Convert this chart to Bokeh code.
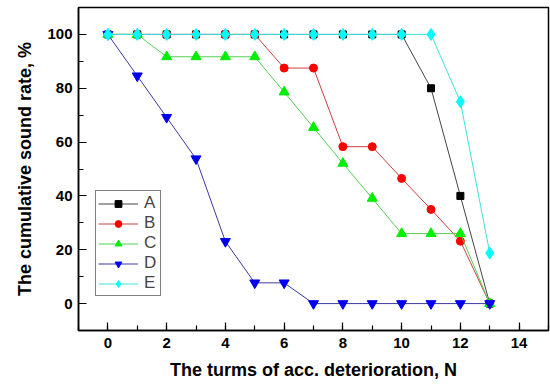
from bokeh.plotting import figure
from bokeh.models import Range1d, SingleIntervalTicker, Legend, LegendItem
from bokeh.embed import file_html
from bokeh.resources import INLINE

turns = [0, 1, 2, 3, 4, 5, 6, 7, 8, 9, 10, 11, 12, 13]
series_a = [100, 100, 100, 100, 100, 100, 100, 100, 100, 100, 100, 80, 40, 0]
series_b = [100, 100, 100, 100, 100, 100, 87.5, 87.5, 58.3, 58.3, 46.5, 35, 23.2, 0]
series_c = [100, 100, 91.7, 91.7, 91.7, 91.7, 78.6, 65.4, 52.1, 39.1, 26, 26, 26, 0]
series_d = [100, 84.6, 69.2, 53.8, 23.1, 7.7, 7.7, 0, 0, 0, 0, 0, 0, 0]
series_e = [100, 100, 100, 100, 100, 100, 100, 100, 100, 100, 100, 100, 75, 18.75]
names = ["A", "B", "C", "D", "E"]

p = figure(width=550, height=384, output_backend="svg", toolbar_location=None,
           x_range=Range1d(-1, 15), y_range=Range1d(-10, 110),
           min_border_left=78, min_border_right=2, min_border_top=7, min_border_bottom=54)
p.background_fill_color = "white"
p.border_fill_color = "white"
p.grid.visible = False
p.outline_line_color = "black"
p.outline_line_width = 1.5

p.xaxis.ticker = SingleIntervalTicker(interval=2, num_minor_ticks=2)
p.yaxis.ticker = SingleIntervalTicker(interval=20, num_minor_ticks=2)
for ax in (p.xaxis[0], p.yaxis[0]):
    ax.major_tick_in = 8
    ax.major_tick_out = 0
    ax.minor_tick_in = 5
    ax.minor_tick_out = 0
    ax.axis_line_color = "black"
    ax.axis_line_width = 1.5
    ax.major_tick_line_width = 1.2
    ax.minor_tick_line_width = 1.2
    ax.major_label_text_font = "Liberation Sans"
    ax.major_label_text_font_style = "bold"
    ax.major_label_text_font_size = "15px"
    ax.major_label_text_color = "black"
    ax.axis_label_text_font = "Liberation Sans"
    ax.axis_label_text_font_style = "bold"
    ax.axis_label_text_font_size = "18px"
    ax.axis_label_text_color = "black"

p.xaxis.axis_label = "The turms of acc. deterioration, N"
p.yaxis.axis_label = "The cumulative sound rate, %"
p.xaxis.major_label_standoff = 7
p.xaxis.axis_label_standoff = 9
p.yaxis.major_label_standoff = 6
p.yaxis.axis_label_standoff = 9

specs = [
    (series_a, "#444444", "black", "square", 7),
    (series_b, "#c84040", "red", "circle", 8),
    (series_c, "#55d055", "#00ee00", "triangle", 10),
    (series_d, "#3a3aa0", "#0000ee", "inverted_triangle", 10),
    (series_e, "#40e0e0", "cyan", "diamond", 12),
]
items = []
for name, (ys, lc, mc, mk, sz) in zip(names, specs):
    ln = p.line(turns, ys, line_color=lc, line_width=1)
    sc = p.scatter(turns, ys, marker=mk, size=sz, fill_color=mc, line_color=mc)
    items.append(LegendItem(label=name, renderers=[ln, sc]))

legend = Legend(items=items, location=(17, 34))
legend.border_line_color = "black"
legend.border_line_width = 1.2
legend.background_fill_alpha = 1
legend.label_text_font = "Liberation Sans"
legend.label_text_font_size = "17px"
legend.glyph_width = 40
legend.glyph_height = 17
legend.label_height = 17
legend.spacing = 0
legend.padding = 2
legend.margin = 0
legend.label_standoff = 6
legend.label_width = 14
p.add_layout(legend, "center")

open("out.html", "w").write(file_html(p, INLINE))
